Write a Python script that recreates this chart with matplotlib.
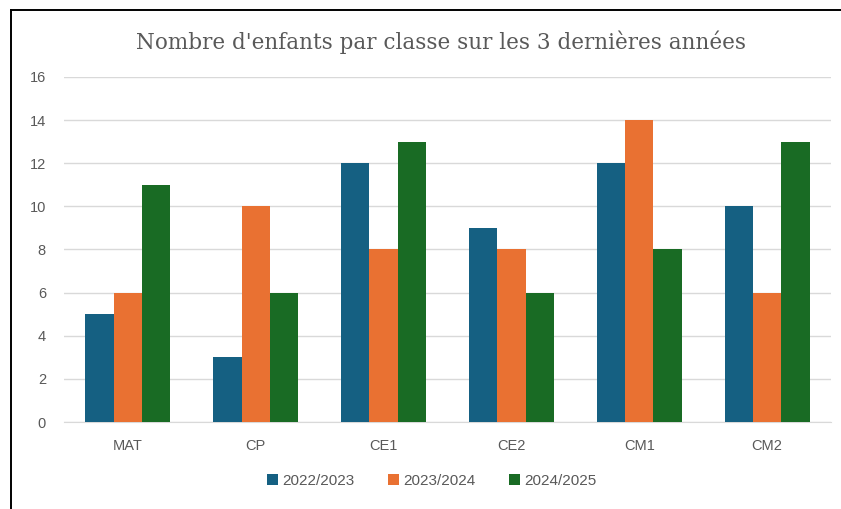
import numpy as np
import matplotlib.pyplot as plt
from matplotlib.lines import Line2D

# data
classes = ["MAT", "CP", "CE1", "CE2", "CM1", "CM2"]
years = ["2022/2023", "2023/2024", "2024/2025"]
y2022 = [5, 3, 12, 9, 12, 10]
y2023 = [6, 10, 8, 8, 14, 6]
y2024 = [11, 6, 13, 6, 8, 13]
colors = ["#156082", "#E97132", "#196B24"]

W, H = 841, 509
fig = plt.figure(figsize=(W / 100, H / 100), dpi=100)
ax = fig.add_axes([64 / W, 1 - 422 / H, (831 - 64) / W, (422 - 77) / H])

x = np.arange(len(classes))
bw = 0.222
for i, (vals, lab, c) in enumerate(zip([y2022, y2023, y2024], years, colors)):
    ax.bar(x + (i - 1) * bw, vals, width=bw, color=c, label=lab, zorder=3)

ax.set_xlim(-0.5, len(classes) - 0.5)
ax.set_ylim(0, 16)
ax.set_yticks(range(0, 17, 2))
ax.set_xticks(x)
ax.set_xticklabels(classes)
ax.grid(axis="y", color="#d9d9d9", lw=1, zorder=0)
for s in ["top", "right", "left"]:
    ax.spines[s].set_visible(False)
ax.spines["bottom"].set_color("#d9d9d9")
ax.tick_params(axis="both", length=0, labelcolor="#595959", labelsize=10.5)
ax.tick_params(axis="y", pad=13)
ax.tick_params(axis="x", pad=12)
for t in ax.get_xticklabels() + ax.get_yticklabels():
    t.set_family("Liberation Sans")

fig.text(441 / W, 1 - 42 / H, "Nombre d'enfants par classe sur les 3 dernières années",
         ha="center", va="center", fontsize=15.5, color="#595959", family="DejaVu Serif")

ax.legend(loc="center", bbox_to_anchor=(432 / W, 1 - 481 / H), bbox_transform=fig.transFigure,
          ncol=3, frameon=False, handlelength=0.7, handleheight=0.7, handletextpad=0.3,
          columnspacing=2.2, prop={"family": "Liberation Sans", "size": 11},
          labelcolor="#595959")

# black frame on top and left edges
fig.add_artist(Line2D([10.5 / W, 10.5 / W], [0, 1 - 9.5 / H], color="black", lw=1.4))
fig.add_artist(Line2D([10.5 / W, 1], [1 - 9.5 / H, 1 - 9.5 / H], color="black", lw=1.4))

fig.savefig("out.png", dpi=100)
